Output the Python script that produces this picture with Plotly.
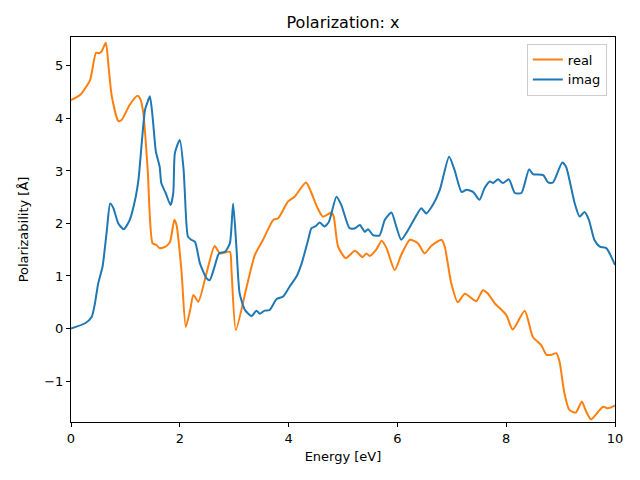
import plotly.graph_objects as go

real_e = [0.0, 0.17, 0.35, 0.46, 0.52, 0.56, 0.64, 0.69, 0.75, 0.87, 0.93, 1.08, 1.22, 1.27, 1.33, 1.41,
          1.50, 1.57, 1.63, 1.74, 1.82, 1.90, 1.94, 2.03, 2.11, 2.19, 2.25, 2.34, 2.49, 2.64, 2.74, 2.92,
          2.95, 3.03, 3.23, 3.38, 3.53, 3.72, 3.81, 3.99, 4.11, 4.32, 4.42, 4.52, 4.63, 4.79, 4.83, 4.91,
          5.05, 5.22, 5.36, 5.43, 5.49, 5.61, 5.71, 5.80, 5.95, 6.07, 6.23, 6.38, 6.50, 6.62, 6.81, 6.87,
          6.99, 7.11, 7.24, 7.45, 7.57, 7.66, 7.79, 8.00, 8.12, 8.34, 8.49, 8.64, 8.74, 8.83, 8.92, 8.98,
          9.07, 9.16, 9.28, 9.39, 9.47, 9.56, 9.78, 9.87, 10.0]
real_v = [4.35, 4.45, 4.73, 5.25, 5.24, 5.27, 5.44, 4.99, 4.42, 3.95, 3.97, 4.26, 4.43, 4.38, 4.10, 3.02,
          1.62, 1.59, 1.53, 1.56, 1.65, 2.07, 1.97, 1.11, 0.03, 0.35, 0.64, 0.51, 1.05, 1.57, 1.43, 1.46,
          1.11, -0.03, 0.80, 1.40, 1.69, 2.07, 2.10, 2.42, 2.51, 2.78, 2.58, 2.32, 2.13, 2.21, 2.13, 1.56,
          1.34, 1.48, 1.36, 1.43, 1.38, 1.50, 1.67, 1.53, 1.11, 1.40, 1.69, 1.62, 1.43, 1.57, 1.69, 1.56,
          0.86, 0.50, 0.66, 0.52, 0.73, 0.67, 0.48, 0.26, -0.02, 0.34, -0.16, -0.31, -0.50, -0.50, -0.47, -0.63,
          -1.23, -1.55, -1.60, -1.39, -1.58, -1.73, -1.49, -1.52, -1.47]

imag_e = [0.0, 0.26, 0.38, 0.44, 0.50, 0.58, 0.66, 0.72, 0.78, 0.87, 0.97, 1.08, 1.19, 1.24, 1.36, 1.40,
          1.45, 1.50, 1.56, 1.63, 1.66, 1.74, 1.83, 1.88, 1.91, 2.00, 2.07, 2.09, 2.15, 2.21, 2.28, 2.37,
          2.49, 2.55, 2.64, 2.72, 2.83, 2.92, 2.98, 3.04, 3.10, 3.20, 3.32, 3.41, 3.47, 3.56, 3.65, 3.78,
          3.90, 4.02, 4.15, 4.24, 4.36, 4.42, 4.50, 4.57, 4.66, 4.74, 4.88, 4.97, 5.12, 5.22, 5.31, 5.40,
          5.46, 5.55, 5.67, 5.77, 5.89, 5.98, 6.07, 6.20, 6.32, 6.44, 6.53, 6.65, 6.78, 6.95, 7.05, 7.18,
          7.27, 7.39, 7.51, 7.60, 7.70, 7.76, 7.85, 7.94, 8.05, 8.16, 8.28, 8.42, 8.49, 8.68, 8.77, 8.86,
          9.03, 9.10, 9.26, 9.35, 9.44, 9.52, 9.62, 9.72, 9.84, 10.0]
imag_v = [0.0, 0.10, 0.22, 0.48, 0.86, 1.18, 1.88, 2.38, 2.29, 2.00, 1.89, 2.07, 2.51, 2.83, 4.16, 4.29,
          4.42, 4.03, 3.37, 3.08, 2.77, 2.58, 2.35, 2.58, 3.34, 3.59, 3.02, 2.64, 1.75, 1.69, 1.65, 1.24,
          0.96, 0.92, 1.18, 1.43, 1.46, 1.62, 2.38, 1.56, 0.67, 0.35, 0.24, 0.34, 0.28, 0.34, 0.35, 0.56,
          0.61, 0.80, 1.00, 1.24, 1.69, 1.91, 1.95, 2.02, 1.94, 2.03, 2.51, 2.35, 1.91, 1.91, 1.97, 1.84,
          1.89, 1.78, 1.77, 2.07, 2.21, 1.94, 1.69, 1.88, 2.10, 2.29, 2.19, 2.35, 2.64, 3.27, 3.02, 2.60,
          2.64, 2.60, 2.45, 2.67, 2.80, 2.77, 2.84, 2.77, 2.84, 2.58, 2.58, 3.03, 2.94, 2.92, 2.78, 2.78,
          3.16, 3.08, 2.38, 2.13, 2.22, 2.07, 1.69, 1.56, 1.53, 1.21]

x_ticks = [0, 2, 4, 6, 8, 10]
y_ticks = [-1, 0, 1, 2, 3, 4, 5]

fig = go.Figure()
fig.add_trace(go.Scatter(x=real_e, y=real_v, mode="lines", name="real",
                         line=dict(color="#ff7f0e", width=2, shape="spline", smoothing=0.6)))
fig.add_trace(go.Scatter(x=imag_e, y=imag_v, mode="lines", name="imag",
                         line=dict(color="#1f77b4", width=2, shape="spline", smoothing=0.6)))

axis_common = dict(showline=True, linecolor="black", linewidth=1, mirror=True, ticks="outside",
                   ticklen=4, tickwidth=1, tickcolor="black", showgrid=False, zeroline=False,
                   tickfont=dict(size=13, color="black"))
fig.update_layout(
    width=640, height=480,
    margin=dict(l=63, r=33, t=29, b=66, autoexpand=False),
    paper_bgcolor="white", plot_bgcolor="white",
    font=dict(family="DejaVu Sans", color="black"),
    title=dict(text="Polarization: x", x=335 / 640, xanchor="center", y=1 - 14 / 480,
               yanchor="middle", font=dict(size=16, color="black")),
    xaxis=dict(range=[0, 10], tickvals=x_ticks, title=dict(text="Energy [eV]", font=dict(size=13), standoff=7),
               **axis_common),
    yaxis=dict(range=[-1.78, 5.55], tickvals=y_ticks, title=dict(text="Polarizability [Å]", font=dict(size=13), standoff=12),
               **axis_common),
    legend=dict(x=0.985, y=0.983, xanchor="right", yanchor="top", bgcolor="rgba(255,255,255,0.8)",
                bordercolor="#cccccc", borderwidth=1, font=dict(size=13)),
)
fig.write_html("out.html")
